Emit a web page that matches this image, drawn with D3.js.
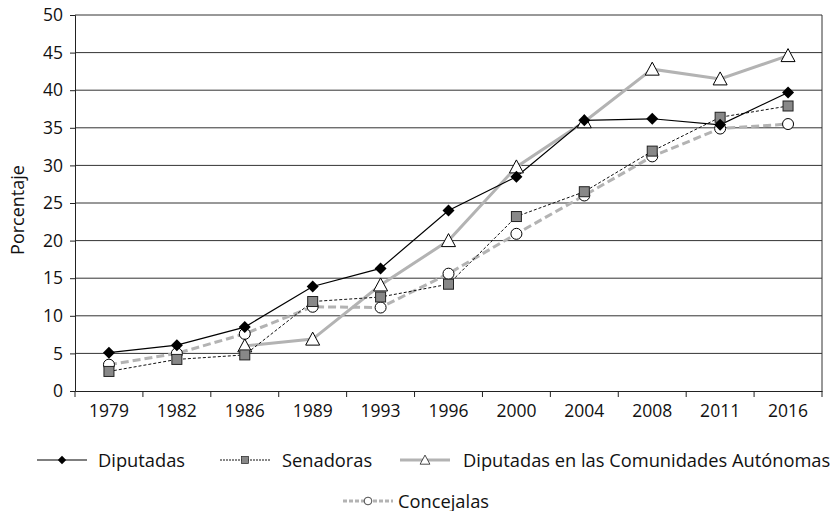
<!DOCTYPE html>
<html>
<head>
<meta charset="utf-8">
<script src="https://cdn.jsdelivr.net/npm/d3@7"></script>
<style>
  body { margin: 0; background: #fff; }
  text { font-family: "Open Sans", sans-serif; fill: #111; }
</style>
</head>
<body>
<svg id="chart" width="837" height="511"></svg>
<script>
// Data
var years = ["1979", "1982", "1986", "1989", "1993", "1996", "2000", "2004", "2008", "2011", "2016"];
var diputadas   = [5.1, 6.1, 8.5, 13.9, 16.3, 24.0, 28.5, 36.0, 36.2, 35.4, 39.7];
var senadoras   = [2.6, 4.2, 4.8, 11.9, 12.5, 14.2, 23.2, 26.5, 31.9, 36.4, 37.9];
var comunidades = [null, null, 6.0, 6.9, 14.1, 20.0, 29.8, 35.8, 42.8, 41.5, 44.6];
var concejalas  = [3.5, 5.0, 7.6, 11.2, 11.1, 15.6, 20.9, 26.0, 31.2, 34.9, 35.5];
var yTicks = [0, 5, 10, 15, 20, 25, 30, 35, 40, 45, 50];

var series = [
  { name: "Concejalas", values: concejalas, stroke: "#b3b3b3", width: 3, dash: "8,4", marker: "circle" },
  { name: "Diputadas en las Comunidades Autónomas", values: comunidades, stroke: "#b3b3b3", width: 3, dash: null, marker: "triangle" },
  { name: "Senadoras", values: senadoras, stroke: "#111", width: 1, dash: "3,2", marker: "square" },
  { name: "Diputadas", values: diputadas, stroke: "#000", width: 1.2, dash: null, marker: "diamond" }
];

var margin = { top: 15, left: 75, right: 15 };
var W = 837;
var svg = d3.select("#chart");

var x = d3.scaleBand().domain(years).range([margin.left, W - margin.right]);
var y = d3.scaleLinear().domain([0, 50]).range([391, margin.top]);

// gridlines
svg.append("g").selectAll("line").data(yTicks.slice(1)).enter().append("line")
  .attr("x1", margin.left).attr("x2", W - margin.right)
  .attr("y1", function(d){ return y(d); }).attr("y2", function(d){ return y(d); })
  .attr("stroke", "#333").attr("stroke-width", 1);

// right border
svg.append("line").attr("x1", W - margin.right).attr("x2", W - margin.right)
  .attr("y1", y(50)).attr("y2", y(0)).attr("stroke", "#333");

// y axis
var yAxis = svg.append("g").attr("transform", "translate(" + margin.left + ",0)")
  .call(d3.axisLeft(y).tickValues(yTicks).tickSize(5).tickPadding(7));
yAxis.selectAll("text").style("font-size", "17.5px");
yAxis.selectAll("line, path").attr("stroke", "#222");

// x axis: ticks on category boundaries
var xAxis = svg.append("g").attr("transform", "translate(0," + y(0) + ")")
  .call(d3.axisBottom(x).tickSize(0).tickPadding(14));
xAxis.selectAll("text").style("font-size", "17.5px");
xAxis.select("path").attr("stroke", "#222");
var bounds = years.map(function(d){ return x(d); }).concat([x(years[years.length-1]) + x.bandwidth()]);
xAxis.selectAll(".bnd").data(bounds).enter().append("line")
  .attr("x1", function(d){ return d; }).attr("x2", function(d){ return d; })
  .attr("y1", 0).attr("y2", 6).attr("stroke", "#222");

svg.append("text").attr("transform", "translate(24,210) rotate(-90)")
  .attr("text-anchor", "middle").style("font-size", "18px").text("Porcentaje");

var cx = function(i){ return x(years[i]) + x.bandwidth() / 2; };

function drawMarker(g, type, px, py) {
  if (type === "circle") {
    g.append("circle").attr("cx", px).attr("cy", py).attr("r", 5.5)
      .attr("fill", "#fff").attr("stroke", "#000").attr("stroke-width", 1);
  } else if (type === "triangle") {
    g.append("path").attr("d", "M" + px + "," + (py - 7) + "L" + (px + 7) + "," + (py + 6) + "L" + (px - 7) + "," + (py + 6) + "Z")
      .attr("fill", "#fff").attr("stroke", "#000").attr("stroke-width", 1);
  } else if (type === "square") {
    g.append("rect").attr("x", px - 5).attr("y", py - 5).attr("width", 10).attr("height", 10)
      .attr("fill", "#888").attr("stroke", "#222").attr("stroke-width", 1);
  } else {
    g.append("path").attr("d", "M" + px + "," + (py - 6) + "L" + (px + 6) + "," + py + "L" + px + "," + (py + 6) + "L" + (px - 6) + "," + py + "Z")
      .attr("fill", "#000");
  }
}

var line = d3.line()
  .defined(function(d){ return d != null; })
  .x(function(d, i){ return cx(i); })
  .y(function(d){ return y(d); });

series.forEach(function(s){
  svg.append("path").datum(s.values).attr("d", line)
    .attr("fill", "none").attr("stroke", s.stroke).attr("stroke-width", s.width)
    .attr("stroke-dasharray", s.dash);
});
series.forEach(function(s){
  var g = svg.append("g");
  s.values.forEach(function(v, i){
    if (v != null) drawMarker(g, s.marker, cx(i), y(v));
  });
});

// legend
var legend = [
  { s: series[3], x: 37, y: 460, tx: 98 },
  { s: series[2], x: 220, y: 460, tx: 282 },
  { s: series[1], x: 400, y: 460, tx: 463 },
  { s: series[0], x: 343, y: 501, tx: 398 }
];
legend.forEach(function(l){
  var g = svg.append("g");
  g.append("line").attr("x1", l.x).attr("x2", l.x + 50).attr("y1", l.y).attr("y2", l.y)
    .attr("stroke", l.s.stroke).attr("stroke-width", l.s.width)
    .attr("stroke-dasharray", l.s.dash ? (l.s.marker === "circle" ? "4,2" : "2,1") : null);
  var g2 = svg.append("g").attr("transform", "translate(" + (l.x + 25) + "," + l.y + ") scale(0.7)");
  drawMarker(g2, l.s.marker, 0, 0);
  g.append("text").attr("x", l.tx).attr("y", l.y + 6.5)
    .style("font-size", "18.3px").text(l.s.name);
});
</script>
</body>
</html>
